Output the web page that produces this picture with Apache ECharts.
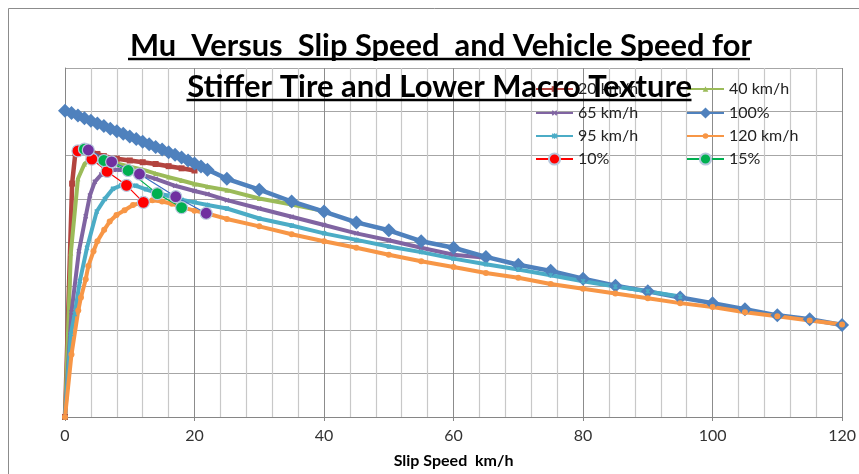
<!DOCTYPE html>
<html>
<head>
<meta charset="utf-8">
<script src="https://cdn.jsdelivr.net/npm/echarts@6/dist/echarts.min.js"></script>
<style>html,body{margin:0;padding:0;background:#fff;}#c{width:859px;height:474px;}</style>
</head>
<body>
<div id="c"></div>
<script>
// ---------- data ----------
const titleLines = ['Mu  Versus  Slip Speed  and Vehicle Speed for', 'Stiffer Tire and Lower Macro Texture'];
const xTitle = 'Slip Speed  km/h';
const yTitle = 'Mu';
const xTicks = [0, 20, 40, 60, 80, 100, 120];

const names = ['20 km/h', '40 km/h', '65 km/h', '100%', '95 km/h', '120 km/h', '10%', '15%', '20%'];

const slip20 = [0, 1.1, 1.6, 2, 3, 4, 5, 6, 8, 10, 12, 14, 16, 18, 20];
const mu20   = [0, 0.535, 0.605, 0.614, 0.615, 0.609, 0.603, 0.598, 0.592, 0.588, 0.584, 0.580, 0.575, 0.570, 0.565];

const slip40 = [0, 0.9, 2, 3, 4, 5, 6, 7.2, 8, 10, 12, 14, 16, 18, 20, 22, 25, 30, 35, 40];
const mu40   = [0, 0.376, 0.546, 0.580, 0.591, 0.594, 0.589, 0.585, 0.581, 0.574, 0.567, 0.558, 0.550, 0.542, 0.534, 0.528, 0.520, 0.501, 0.487, 0.472];

const slip65 = [0, 1, 2.15, 3.2, 3.85, 4.6, 5.6, 6.5, 8, 9.75, 11.5, 14, 17, 20, 22, 25, 30, 35, 40, 45, 50, 55, 60, 65];
const mu65   = [0, 0.240, 0.380, 0.460, 0.508, 0.539, 0.556, 0.563, 0.567, 0.565, 0.557, 0.546, 0.530, 0.518, 0.511, 0.497, 0.478, 0.459, 0.440, 0.421, 0.405, 0.388, 0.372, 0.365];

const slip100 = [0, 1, 2, 3, 4, 5, 6, 7, 8, 9, 10, 11, 12, 13, 14, 15, 16, 17, 18, 19, 20, 21, 22, 25, 30, 35, 40, 45, 50, 55, 60, 65, 70, 75, 80, 85, 90, 95, 100, 105, 110, 115, 120];
const mu100   = [0.702, 0.697, 0.691, 0.685, 0.679, 0.673, 0.667, 0.661, 0.655, 0.649, 0.643, 0.637, 0.631, 0.625, 0.619, 0.613, 0.607, 0.601, 0.595, 0.588, 0.581, 0.574, 0.567, 0.546, 0.521, 0.494, 0.471, 0.446, 0.428, 0.403, 0.388, 0.367, 0.349, 0.335, 0.317, 0.301, 0.288, 0.274, 0.261, 0.247, 0.233, 0.224, 0.211];

const slip95 = [0, 0.9, 1.5, 2.3, 3.4, 4.9, 6.15, 7.4, 8.7, 9.5, 11, 12.5, 14.25, 16, 18, 20, 22, 25, 30, 35, 40, 45, 50, 55, 60, 65, 70, 75, 80, 85, 90, 95];
const mu95   = [0, 0.190, 0.236, 0.312, 0.388, 0.471, 0.500, 0.523, 0.531, 0.532, 0.530, 0.522, 0.513, 0.507, 0.498, 0.492, 0.486, 0.478, 0.455, 0.439, 0.421, 0.406, 0.391, 0.378, 0.363, 0.350, 0.338, 0.325, 0.311, 0.299, 0.288, 0.276];

const slip120 = [0, 1.0, 2.05, 2.46, 3.2, 3.6, 4.4, 5, 6.05, 6.9, 7.95, 9.2, 10.5, 12.1, 13.5, 15, 16.5, 18, 20, 21.8, 25, 30, 35, 40, 45, 50, 55, 60, 65, 70, 75, 80, 85, 90, 95, 100, 105, 110, 115, 120];
const mu120   = [0, 0.143, 0.244, 0.274, 0.316, 0.346, 0.380, 0.403, 0.429, 0.448, 0.463, 0.474, 0.486, 0.492, 0.497, 0.494, 0.489, 0.481, 0.473, 0.467, 0.454, 0.437, 0.419, 0.403, 0.388, 0.372, 0.357, 0.344, 0.330, 0.319, 0.305, 0.294, 0.283, 0.272, 0.261, 0.252, 0.240, 0.231, 0.221, 0.212];

const slipP10 = [2.0, 4.15, 6.5, 9.5, 12.1];
const muP10   = [0.610, 0.591, 0.563, 0.531, 0.492];
const slipP15 = [3.0, 6.0, 9.75, 14.25, 18.0];
const muP15   = [0.614, 0.588, 0.565, 0.512, 0.480];
const slipP20 = [3.6, 7.2, 11.5, 17.1, 21.8];
const muP20   = [0.612, 0.585, 0.557, 0.505, 0.467];

// ---------- build ----------
function zip(a, b) { return a.map((v, i) => [v, b[i]]); }
const X_SYM = 'path://M0,2L2,0L5,3L8,0L10,2L7,5L10,8L8,10L5,7L2,10L0,8L3,5Z';
const STAR_SYM = 'path://M0,2L2,0L5,3L8,0L10,2L7,5L10,8L8,10L5,7L2,10L0,8L3,5Z M4,0L6,0L6,10L4,10Z';

function speedSeries(name, xs, ys, color, symbol, size, lw) {
  return {
    name, type: 'line', data: zip(xs, ys), symbol, symbolSize: size,
    lineStyle: { color, width: lw }, itemStyle: { color },
    showSymbol: true, animation: false, z: 2
  };
}
function pctSeries(name, xs, ys, color, lineColor) {
  return {
    name, type: 'line', data: zip(xs, ys), symbol: 'circle', symbolSize: 12,
    lineStyle: { color: lineColor, width: 1.2 },
    itemStyle: { color, borderColor: '#B7C7DD', borderWidth: 1.2 },
    animation: false, z: 5
  };
}

const series = [
  speedSeries(names[0], slip20, mu20, '#B3443F', 'rect', 6, 4.5),
  speedSeries(names[1], slip40, mu40, '#9BBB59', 'triangle', 5, 4),
  speedSeries(names[2], slip65, mu65, '#8064A2', X_SYM, 5, 4),
  speedSeries(names[3], slip100, mu100, '#4F81BD', 'diamond', 14, 4.5),
  speedSeries(names[4], slip95, mu95, '#4BACC6', STAR_SYM, 5, 4),
  speedSeries(names[5], slip120, mu120, '#F79646', 'circle', 6, 4),
  pctSeries(names[6], slipP10, muP10, '#FF0000', '#FF0000'),
  pctSeries(names[7], slipP15, muP15, '#00B050', '#00B050'),
  pctSeries(names[8], slipP20, muP20, '#7030A0', '#3A6FC4')
];

// measure title widths to scale
const cvs = document.createElement('canvas').getContext('2d');
const TF = 'bold 31px Lato';
cvs.font = TF;
const targetW = [622, 505];
const cx = 439;
const tY = [46, 87];
const ulY = [59, 100];
const graphics = [];
titleLines.forEach((t, i) => {
  const w = cvs.measureText(t).width;
  const s = targetW[i] / w;
  graphics.push({
    type: 'text', x: cx, y: tY[i], scaleX: s, originX: cx, originY: tY[i], z: 10,
    style: { text: t, font: TF, fill: '#000', textAlign: 'center', textVerticalAlign: 'middle' }
  });
  graphics.push({
    type: 'line', z: 10,
    shape: { x1: cx - targetW[i] / 2, y1: ulY[i], x2: cx + targetW[i] / 2, y2: ulY[i] },
    style: { stroke: '#000', lineWidth: 2.5 }
  });
});
graphics.push({
  type: 'text', x: 49, y: 205, rotation: Math.PI / 2, originX: 49, originY: 205, z: 10,
  style: { text: yTitle, font: 'bold 16px Lato', fill: '#000', textAlign: 'center', textVerticalAlign: 'middle' }
});
graphics.push({
  type: 'rect', z: 0, silent: true,
  shape: { x: 8.5, y: 8.5, width: 900, height: 500 },
  style: { fill: 'none', stroke: '#8C8C8C', lineWidth: 1 }
});

// legend: one component per entry, two columns
const legendText = { fontFamily: 'Lato', fontSize: 16, color: '#222', lineHeight: 16 };
const legendOrder = [names[0], names[1], names[2], names[3], names[4], names[5], names[6], names[7]];
const bigIcon = { '100%': true, '10%': true, '15%': true };
const colLeft = [535, 686];
const rowTop = [81, 105, 128, 151];
const legends = legendOrder.map((n, i) => ({
  data: [n], orient: 'horizontal', padding: 0,
  left: colLeft[i % 2], top: rowTop[Math.floor(i / 2)],
  itemWidth: 37, itemHeight: bigIcon[n] ? 14 : 7, textStyle: legendText, z: 8
}));

const option = {
  backgroundColor: '#fff',
  animation: false,
  grid: { left: 65, right: 13, top: 68, bottom: 53, containLabel: false },
  legend: legends,
  xAxis: {
    type: 'value', min: 0, max: 120, interval: 20,
    name: xTitle, nameLocation: 'middle', nameGap: 36,
    nameTextStyle: { fontFamily: 'Lato', fontWeight: 'bold', fontSize: 16, color: '#000' },
    axisLine: { show: true, lineStyle: { color: '#868686', width: 1 } },
    axisTick: { show: true, length: 4, lineStyle: { color: '#868686' } },
    axisLabel: { fontFamily: 'Lato', fontSize: 16, color: '#333', margin: 11,
      formatter: v => (xTicks.indexOf(v) >= 0 ? String(v) : '') },
    splitLine: { show: true, lineStyle: { color: '#8C8C8C', width: 1 } },
    minorTick: { show: false, splitNumber: 5 },
    minorSplitLine: { show: true, lineStyle: { color: '#C8C8C8', width: 1.2 } }
  },
  yAxis: {
    type: 'value', min: 0, max: 0.8, interval: 0.1,
    axisLine: { show: true, lineStyle: { color: '#868686' } },
    axisTick: { show: false }, axisLabel: { show: false },
    splitLine: { show: true, lineStyle: { color: '#A6A6A6', width: 1.2 } }
  },
  graphic: graphics,
  series
};
const chart = echarts.init(document.getElementById('c'), null, { renderer: 'canvas' });
chart.setOption(option);
</script>
</body>
</html>
